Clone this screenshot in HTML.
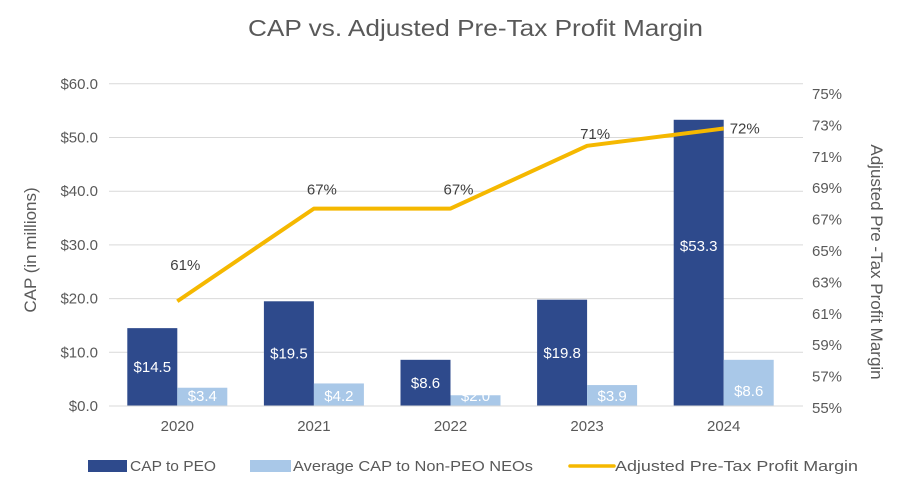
<!DOCTYPE html>
<html><head><meta charset="utf-8"><style>
body{margin:0;background:#fff;}
svg text{font-family:"Liberation Sans",sans-serif;}
</style></head><body>
<svg id="chart" width="906" height="498" viewBox="0 0 906 498">
<text x="248" y="36" textLength="455" lengthAdjust="spacingAndGlyphs" font-size="23" fill="#595959">CAP vs. Adjusted Pre-Tax Profit Margin</text>
<text transform="translate(36,250) rotate(-90)" text-anchor="middle" font-size="17" fill="#595959">CAP (in millions)</text>
<text transform="translate(871,262) rotate(90)" text-anchor="middle" font-size="17" fill="#595959">Adjusted Pre -Tax Profit Margin</text>
<g id="grid"></g><g id="leftTicks"></g><g id="rightTicks"></g><g id="bars"></g><g id="line"></g><g id="xlabels"></g>
<line x1="109" y1="406" x2="803" y2="406" stroke="#d9d9d9" stroke-width="1"/>
<g>
<rect x="88" y="460" width="39" height="12" fill="#2e4a8c"/>
<text x="130" y="471" textLength="86" lengthAdjust="spacingAndGlyphs" font-size="15" fill="#595959">CAP to PEO</text>
<rect x="250" y="460" width="41" height="12" fill="#a9c8e8"/>
<text x="293" y="471" textLength="240" lengthAdjust="spacingAndGlyphs" font-size="15" fill="#595959">Average CAP to Non-PEO NEOs</text>
<line x1="570" y1="466" x2="614" y2="466" stroke="#f5b800" stroke-width="3.5" stroke-linecap="round"/>
<text x="615" y="471" textLength="243" lengthAdjust="spacingAndGlyphs" font-size="15" fill="#595959">Adjusted Pre-Tax Profit Margin</text>
</g>
</svg>
<script>
const categories=["2020","2021","2022","2023","2024"];
const peoValues=[14.5,19.5,8.6,19.8,53.3];
const neoValues=[3.4,4.2,2.0,3.9,8.6];
const marginValues=[61.8,67.7,67.7,71.7,72.8];
const marginLabels=["61%","67%","67%","71%","72%"];
const leftTickValues=[0,10,20,30,40,50,60];
const rightTickValues=[55,57,59,61,63,65,67,69,71,73,75];
const NS="http://www.w3.org/2000/svg";
const plotL=109,plotR=792,baseY=406;
const yL=v=>baseY-v*5.37;
const yR=v=>408-(v-55)*15.7;
const step=(plotR-plotL)/categories.length;
const xC=i=>plotL+step*(i+0.5);
function mk(tag,attrs,parent,text){const e=document.createElementNS(NS,tag);for(const k in attrs)e.setAttribute(k,attrs[k]);if(text!==undefined)e.textContent=text;document.getElementById(parent).appendChild(e);return e;}
leftTickValues.forEach(v=>{
if(v>0){const g=mk("line",{x1:109,x2:803,y1:yL(v),y2:yL(v),stroke:"#d9d9d9","stroke-width":1},"grid");

}
const t=mk("text",{x:98,y:yL(v)+5,"text-anchor":"end","font-size":15,fill:"#595959"},"leftTicks","$"+v.toFixed(1));

});
rightTickValues.forEach(v=>{const t=mk("text",{x:812,y:yR(v)+5,"font-size":15,fill:"#595959"},"rightTicks",v+"%");

});
const bw=50;
categories.forEach((c,i)=>{
const cx=xC(i);
const b1=mk("rect",{x:cx-bw,y:yL(peoValues[i]),width:bw,height:baseY-yL(peoValues[i]),fill:"#2e4a8c"},"bars");


const b2=mk("rect",{x:cx,y:yL(neoValues[i]),width:bw,height:baseY-yL(neoValues[i]),fill:"#a9c8e8"},"bars");


const ly=(yL(peoValues[i])+baseY)/2+5;
const l1=mk("text",{x:cx-bw/2,y:i===4?251:ly,"text-anchor":"middle","font-size":15,fill:"#fff"},"bars","$"+peoValues[i].toFixed(1));


const l2=mk("text",{x:cx+bw/2,y:i===4?396:401,"text-anchor":"middle","font-size":15,fill:"#fff"},"bars","$"+neoValues[i].toFixed(1));


const xl=mk("text",{x:cx,y:431,"text-anchor":"middle","font-size":15,fill:"#595959"},"xlabels",c);


});
const pts=categories.map((c,i)=>xC(i)+","+yR(marginValues[i])).join(" ");
const pl=mk("polyline",{points:pts,fill:"none",stroke:"#f5b800","stroke-width":4,"stroke-linejoin":"round"},"line");


categories.forEach((c,i)=>{
const t=mk("text",{x:i===4?xC(i)+6:xC(i)+8,y:yR(marginValues[i])-(i===4?-5:i===0?31:i===3?7:14),"text-anchor":i===4?"start":"middle","font-size":15,fill:"#404040"},"line",marginLabels[i]);


});
</script>
</body></html>
